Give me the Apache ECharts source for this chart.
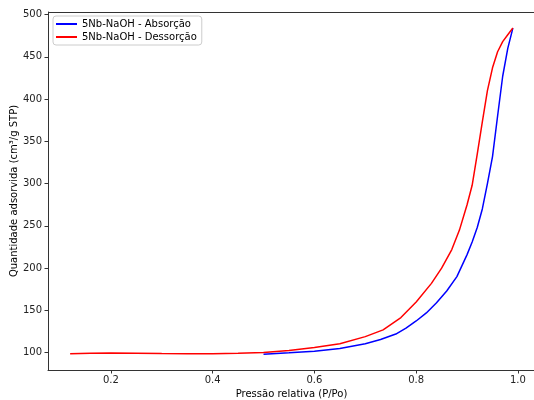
<!DOCTYPE html>
<html>
<head>
<meta charset="utf-8">
<script src="https://cdn.jsdelivr.net/npm/echarts@6/dist/echarts.min.js"></script>
<style>html,body{margin:0;padding:0;background:#fff}#c{width:534px;height:400px}</style>
</head>
<body>
<div id="c"></div>
<script>
// Adsorption (blue)
const adsX = [0.50,0.55,0.60,0.65,0.70,0.73,0.76,0.78,0.80,0.82,0.84,0.86,0.88,0.89,0.90,0.91,0.92,0.93,0.94,0.95,0.96,0.97,0.98,0.99];
const adsY = [98.2,99.8,101.8,105,110.5,115.5,122,129,137.5,147,159,173,190,203,216,231,248,270,300,332,380,427,460,484];
// Desorption (red)
const desX = [0.12,0.16,0.20,0.25,0.30,0.35,0.40,0.45,0.50,0.55,0.60,0.65,0.70,0.735,0.77,0.80,0.83,0.85,0.87,0.885,0.90,0.91,0.92,0.93,0.94,0.95,0.96,0.97,0.98,0.99];
const desY = [98.8,99.3,99.5,99.3,99.0,98.8,98.8,99.2,100.3,102.5,106,110.5,119,127,141.5,160,182,200,222,245,275,298,335,373,410,437,456,468,476,484];
const seriesNames = ['5Nb-NaOH - Absorção','5Nb-NaOH - Dessorção'];
const xTicks = [0.2,0.4,0.6,0.8,1.0];
const yTicks = [100,150,200,250,300,350,400,450,500];
const xTitle = 'Pressão relativa (P/Po)';
const yTitle = 'Quantidade adsorvida (cm³/g STP)';

const pairs = (xs, ys) => xs.map((x, i) => [x, ys[i]]);
const font = 'DejaVu Sans';
const fs = 10;
const chart = echarts.init(document.getElementById('c'), null, {renderer: 'canvas'});
chart.setOption({
  animation: false,
  textStyle: {fontFamily: font},
  grid: {left: 48, right: -1, top: 12, bottom: 30, containLabel: false, outerBoundsMode: 'none'},
  legend: {
    orient: 'vertical', left: 53, top: 16,
    padding: [3, 5, 3, 3], itemGap: 3,
    itemWidth: 21, itemHeight: 2, icon: 'rect',
    backgroundColor: '#fff', borderColor: '#cccccc', borderWidth: 1, borderRadius: 3,
    textStyle: {fontFamily: font, fontSize: fs, color: '#000'},
    data: seriesNames
  },
  xAxis: {
    type: 'value', min: 0.0765, max: 1.0335,
    name: xTitle, nameLocation: 'middle', nameGap: 19, nameMoveOverlap: false,
    nameTextStyle: {fontFamily: font, fontSize: fs, color: '#000'},
    axisLine: {show: true, lineStyle: {color: '#333', width: 1}},
    axisTick: {show: true, length: 3.5, inside: false, customValues: xTicks, lineStyle: {color: '#333'}},
    axisLabel: {customValues: xTicks, margin: 5, fontFamily: font, fontSize: fs, color: '#222',
      formatter: v => v.toFixed(1)},
    splitLine: {show: false}
  },
  yAxis: {
    type: 'value', min: 79.5, max: 503,
    name: yTitle, nameLocation: 'middle', nameGap: 29, nameRotate: 90, nameMoveOverlap: false,
    nameTextStyle: {fontFamily: font, fontSize: fs, color: '#000'},
    axisLine: {show: true, lineStyle: {color: '#333', width: 1}},
    axisTick: {show: true, length: 3.5, inside: false, customValues: yTicks, lineStyle: {color: '#333'}},
    axisLabel: {customValues: yTicks, margin: 6, fontFamily: font, fontSize: fs, color: '#222'},
    splitLine: {show: false}
  },
  series: [
    {name: seriesNames[0], type: 'line', data: pairs(adsX, adsY), showSymbol: false, symbol: 'none',
      lineStyle: {color: '#0000ff', width: 1.5}, itemStyle: {color: '#0000ff'}},
    {name: seriesNames[1], type: 'line', data: pairs(desX, desY), showSymbol: false, symbol: 'none',
      lineStyle: {color: '#ff0000', width: 1.5}, itemStyle: {color: '#ff0000'}}
  ],
  graphic: [{type: 'line', shape: {x1: 48, y1: 12.5, x2: 534, y2: 12.5}, style: {stroke: '#333', lineWidth: 1}}]
});
</script>
</body>
</html>
